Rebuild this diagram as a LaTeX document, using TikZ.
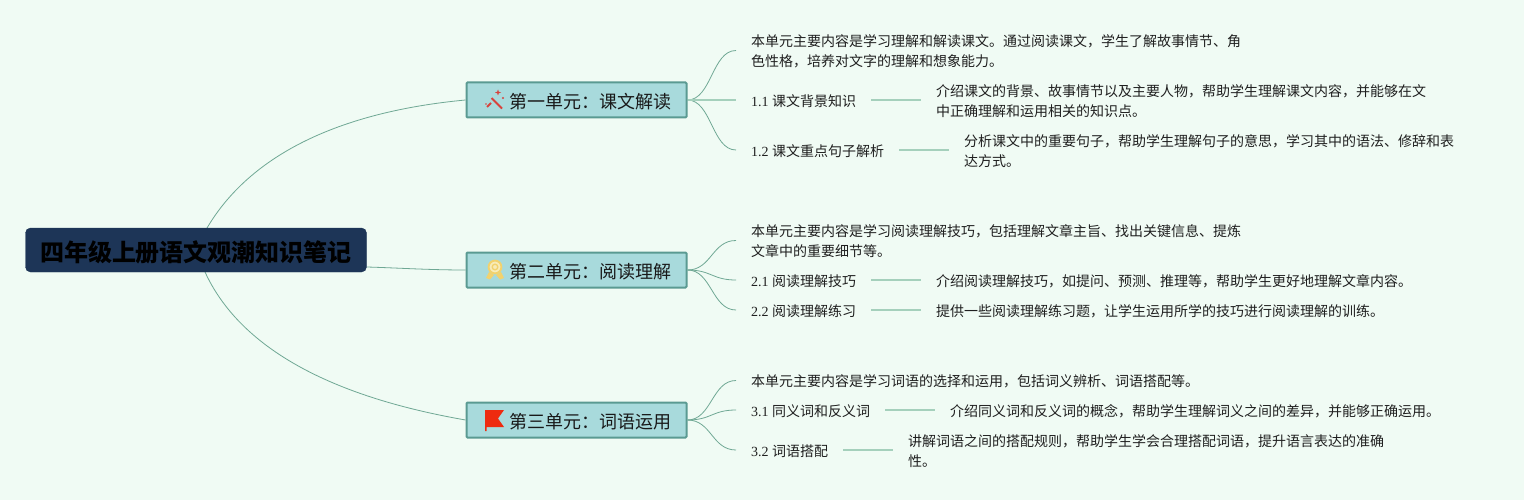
\documentclass[tikz,border=0pt]{standalone}
\usepackage{fontspec}
\usetikzlibrary{calc}
\setmainfont{Liberation Serif}
\newfontfamily\cjk{Noto Sans CJK SC}
\definecolor{bgc}{HTML}{F0FBF4}
\definecolor{rootfill}{HTML}{1D3557}
\definecolor{unitfill}{HTML}{A8DADC}
\definecolor{unitline}{HTML}{5A9A92}
\definecolor{branch}{HTML}{6FA894}
\definecolor{leafline}{HTML}{A5D0BC}
\definecolor{wand}{HTML}{D8423C}
\definecolor{medal}{HTML}{F2D26E}
\definecolor{medalin}{HTML}{F8EBB8}
\definecolor{flagc}{HTML}{EE2B10}
\newcommand{\cm}{\symbol{"FF0C}}
\newcommand{\cn}{\symbol{"FF1A}}
\tikzset{
  x=1pt,y=-1pt,
  rootbox/.style={draw=rootfill,fill=rootfill,rounded corners=5pt,minimum width=341pt,minimum height=44pt,inner sep=0pt,text=black,font=\fontsize{24}{28}\selectfont\cjk\bfseries},
  unitbox/.style={draw=unitline,line width=2pt,fill=unitfill,rounded corners=1pt,minimum width=220pt,minimum height=35pt,inner sep=0pt},
  unittext/.style={inner sep=0pt,anchor=west,font=\fontsize{18}{22}\selectfont\cjk,text=black!90},
  leaf/.style={anchor=west,inner ysep=2pt,inner xsep=15pt,align=left,font=\fontsize{14}{20}\selectfont\cjk,text=black!88},
  curve/.style={draw=branch,line width=0.8pt},
  stem/.style={draw=leafline,line width=1.3pt},
}
\newcommand{\num}[1]{{\fontspec{Liberation Serif}#1\ }}
\begin{document}
\begin{tikzpicture}
\useasboundingbox (0,0) rectangle (1524,500);
\fill[bgc] (0,0) rectangle (1524,500);
% root and units
\coordinate (rtop) at (207,228);
\coordinate (rmid) at (367,267);
\coordinate (rbot) at (205,272);
\node[unitbox] (u1) at (576.5,100) {};
\node[unitbox] (u2) at (576.5,270) {};
\node[unitbox] (u3) at (576.5,420) {};
\draw[curve] (rtop) .. controls (262,135) and (380,108) .. (u1.west);
\draw[curve] (rmid) .. controls (400,268) and (430,270) .. (u2.west);
\draw[curve] (rbot) .. controls (250,370) and (380,405) .. (u3.west);
\node[rootbox] (root) at (196,250) {\raisebox{-11pt}[0pt][0pt]{四年级上册语文观潮知识笔记}};
\node[unittext] (t1) at (509,101.8) {第一单元\cn 课文解读};
\node[unittext] (t2) at (509,271.8) {第二单元\cn 阅读理解};
\node[unittext] (t3) at (509,421.8) {第三单元\cn 词语运用};
% icons
\draw[wand,line width=1.8pt] (491.5,98) -- (502,108.5);
\draw[wand,line width=1.8pt] (487,107) -- (491,103);
\fill[wand] (498,89.5) -- (498.8,91.7) -- (501,92.5) -- (498.8,93.3) -- (498,95.5) -- (497.2,93.3) -- (495,92.5) -- (497.2,91.7) -- cycle;
\fill[wand] (503,98) circle (1.1pt);
\fill[wand] (486,104) circle (.8pt);
\fill[medal] (489,272) -- (486,278) -- (490,279.5) -- (494,275) -- cycle;
\fill[medal] (501,272) -- (504,278) -- (500,279.5) -- (496,275) -- cycle;
\draw[medal,line width=1.9pt,fill=medalin] (495,267) circle (6.4);
\draw[medal,line width=1.3pt] (495,267) circle (2.8);
\fill[flagc] (485,410) -- (504,410) -- (498,418.5) -- (504,427) -- (486.5,427) -- (486.5,431) -- (485,431) -- cycle;
% unit 1
\node[leaf] (a0) at (736,51.5) {本单元主要内容是学习理解和解读课文。通过阅读课文\cm 学生了解故事情节、角\\色性格\cm 培养对文字的理解和想象能力。};
\node[leaf] (a1) at (736,101) {\num{1.1}课文背景知识};
\node[leaf] (a2) at (736,151) {\num{1.2}课文重点句子解析};
\node[leaf] (a1d) at (921,101) {介绍课文的背景、故事情节以及主要人物\cm 帮助学生理解课文内容\cm 并能够在文\\中正确理解和运用相关的知识点。};
\node[leaf] (a2d) at (949,151) {分析课文中的重要句子\cm 帮助学生理解句子的意思\cm 学习其中的语法、修辞和表\\达方式。};
% unit 2
\node[leaf] (b0) at (736,241.5) {本单元主要内容是学习阅读理解技巧\cm 包括理解文章主旨、找出关键信息、提炼\\文章中的重要细节等。};
\node[leaf] (b1) at (736,281) {\num{2.1}阅读理解技巧};
\node[leaf] (b2) at (736,311) {\num{2.2}阅读理解练习};
\node[leaf] (b1d) at (921,281) {介绍阅读理解技巧\cm 如提问、预测、推理等\cm 帮助学生更好地理解文章内容。};
\node[leaf] (b2d) at (921,311) {提供一些阅读理解练习题\cm 让学生运用所学的技巧进行阅读理解的训练。};
% unit 3
\node[leaf] (c0) at (736,381.5) {本单元主要内容是学习词语的选择和运用\cm 包括词义辨析、词语搭配等。};
\node[leaf] (c1) at (736,411) {\num{3.1}同义词和反义词};
\node[leaf] (c2) at (736,451) {\num{3.2}词语搭配};
\node[leaf] (c1d) at (935,411) {介绍同义词和反义词的概念\cm 帮助学生理解词义之间的差异\cm 并能够正确运用。};
\node[leaf] (c2d) at (893,451) {讲解词语之间的搭配规则\cm 帮助学生学会合理搭配词语\cm 提升语言表达的准确\\性。};
% connectors
\foreach \u/\l in {u1/a0,u1/a2,u2/b0,u2/b1,u2/b2,u3/c0,u3/c1,u3/c2}{
  \draw[curve] (\u.east) .. controls +(24,0) and ($(\l.west)+(-24,-1)$) .. ([yshift=1pt]\l.west);
}
\draw[stem] (u1.east) -- ([yshift=1pt]a1.west);
\foreach \a/\b in {a1/a1d,a2/a2d,b1/b1d,b2/b2d,c1/c1d,c2/c2d}{
  \draw[stem] ([yshift=1pt]\a.east) -- ([yshift=1pt]\b.west);
}
\end{tikzpicture}
\end{document}
